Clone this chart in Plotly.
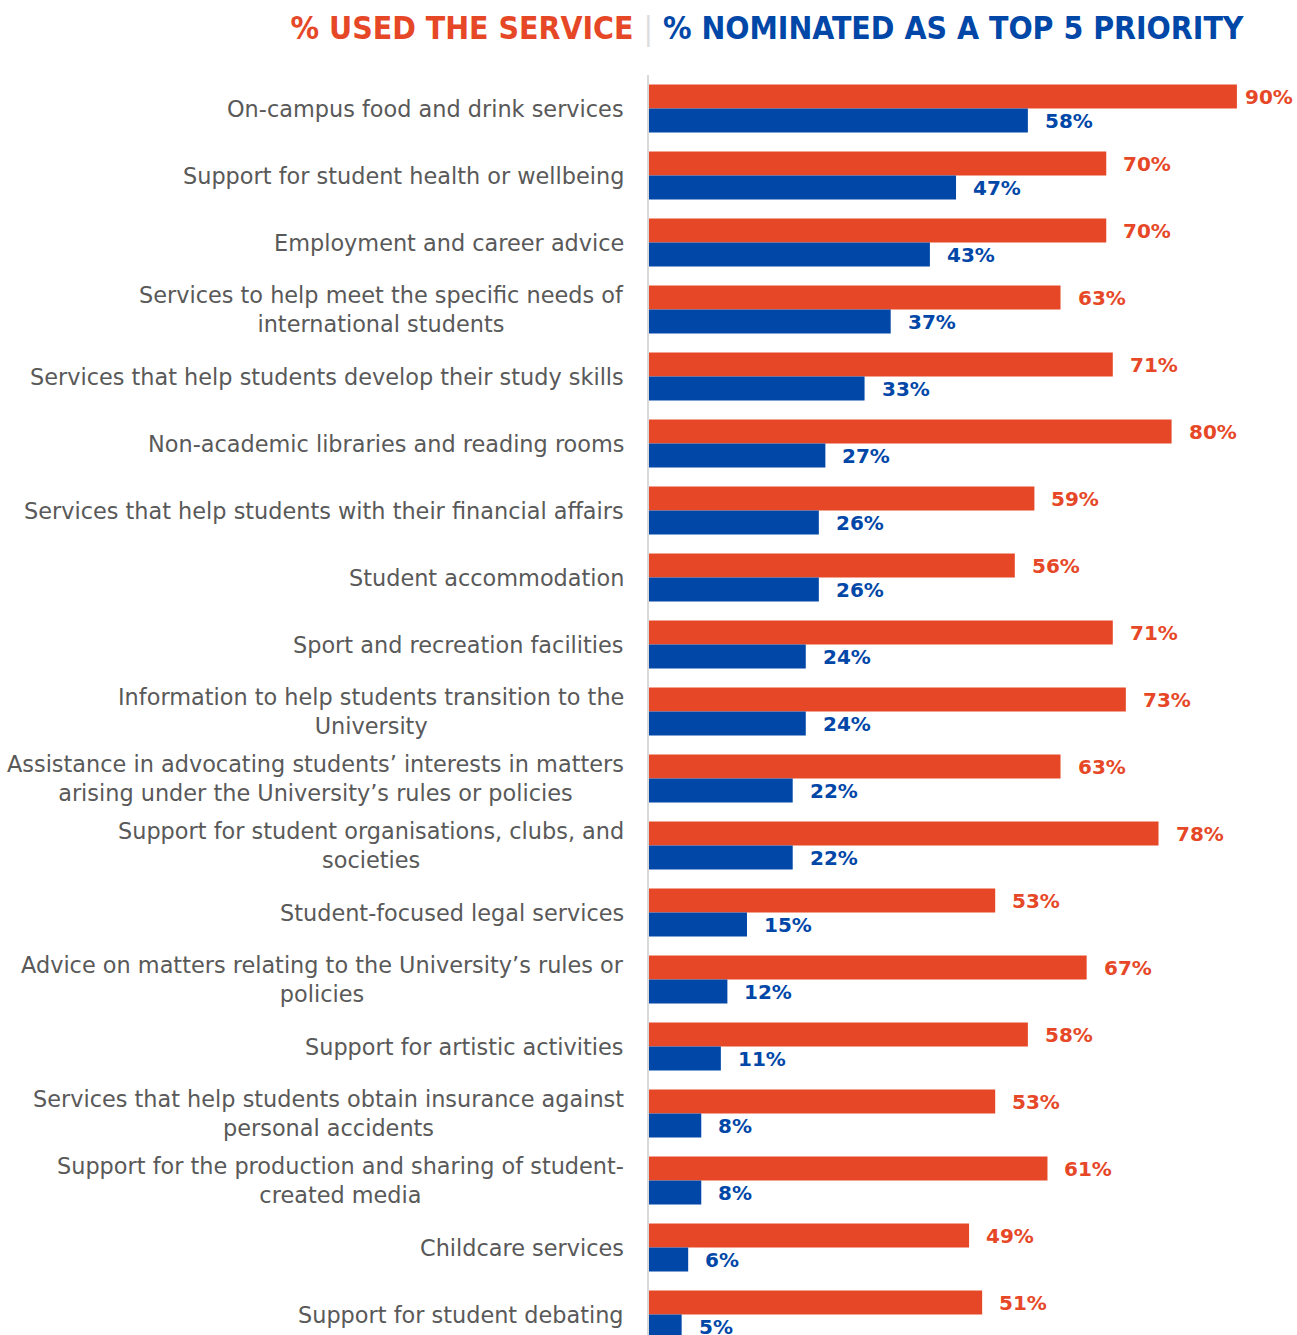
import plotly.graph_objects as go

# Student services: share who used each service vs. share naming it a top-5 priority
categories = [
    "On-campus food and drink services",
    "Support for student health or wellbeing",
    "Employment and career advice",
    "Services to help meet the specific needs of<br>international students",
    "Services that help students develop their study skills",
    "Non-academic libraries and reading rooms",
    "Services that help students with their financial affairs",
    "Student accommodation",
    "Sport and recreation facilities",
    "Information to help students transition to the<br>University",
    "Assistance in advocating students\u2019 interests in matters<br>arising under the University\u2019s rules or policies",
    "Support for student organisations, clubs, and<br>societies",
    "Student-focused legal services",
    "Advice on matters relating to the University\u2019s rules or<br>policies",
    "Support for artistic activities",
    "Services that help students obtain insurance against<br>personal accidents",
    "Support for the production and sharing of student-<br>created media",
    "Childcare services",
    "Support for student debating",
]
used_pct = [90, 70, 70, 63, 71, 80, 59, 56, 71, 73, 63, 78, 53, 67, 58, 53, 61, 49, 51]
priority_pct = [58, 47, 43, 37, 33, 27, 26, 26, 24, 24, 22, 22, 15, 12, 11, 8, 8, 6, 5]

ORANGE = "#E64827"
BLUE = "#0047A8"
LABEL_GREY = "#595959"
LABEL_FONT = "DejaVu Sans"

fig = go.Figure()
fig.add_trace(go.Bar(
    x=used_pct, y=categories, orientation="h", name="% used the service",
    marker=dict(color=ORANGE, line=dict(width=0)), hoverinfo="skip",
))
fig.add_trace(go.Bar(
    x=priority_pct, y=categories, orientation="h", name="% nominated as a top 5 priority",
    marker=dict(color=BLUE, line=dict(width=0)), hoverinfo="skip",
))

annotations = []
# category labels, right-aligned block with centred lines
for cat in categories:
    annotations.append(dict(
        x=0, xref="paper", y=cat, yref="y", text=cat, showarrow=False,
        xanchor="right", yanchor="middle", align="center", xshift=-23,
        font=dict(family=LABEL_FONT, size=22.4, color=LABEL_GREY),
    ))
# value labels at the end of each bar
for cat, u, p in zip(categories, used_pct, priority_pct):
    annotations.append(dict(
        x=u, y=cat, text=f"{u}%", showarrow=False, xanchor="left", yanchor="middle",
        xshift=6 if u > 85 else 15, yshift=12,
        font=dict(family=LABEL_FONT, size=20, color=ORANGE, weight="bold"),
    ))
    annotations.append(dict(
        x=p, y=cat, text=f"{p}%", showarrow=False, xanchor="left", yanchor="middle",
        xshift=15, yshift=-12,
        font=dict(family=LABEL_FONT, size=20, color=BLUE, weight="bold"),
    ))

title_text = (
    f'<span style="color:{ORANGE}">% USED THE SERVICE</span> '
    '<span style="color:#DDDDDD;font-weight:normal">|</span> '
    f'<span style="color:{BLUE}">% NOMINATED AS A TOP 5 PRIORITY</span>'
)

fig.update_layout(
    width=1297, height=1335,
    margin=dict(l=649, r=0, t=75, b=0),
    paper_bgcolor="white", plot_bgcolor="white",
    barmode="group", bargap=0.284, bargroupgap=0,
    showlegend=False,
    title=dict(
        text=title_text, x=767 / 1297, xanchor="center", y=1 - 28 / 1335, yanchor="middle",
        font=dict(family="DejaVu Sans Condensed, Liberation Sans, Arial", size=31.7, weight="bold"),
    ),
    xaxis=dict(range=[0, 99.2], visible=False, showgrid=False, zeroline=False),
    yaxis=dict(
        type="category", range=[18.306, -0.5], showticklabels=False, showgrid=False,
        zeroline=False, showline=True, linecolor="#D9D9D9", linewidth=2, ticks="",
    ),
    annotations=annotations,
)

fig.write_html("out.html")
